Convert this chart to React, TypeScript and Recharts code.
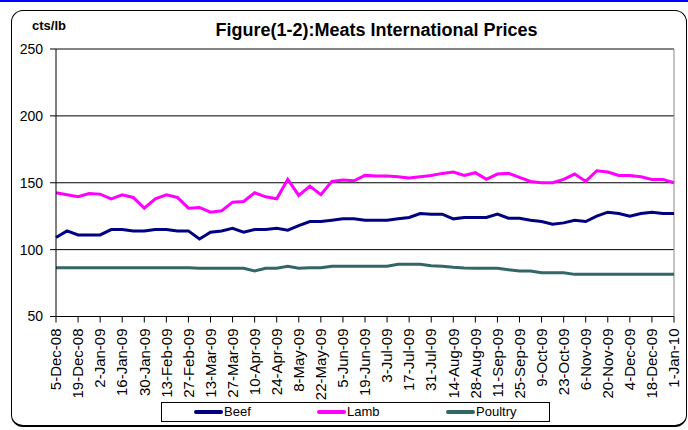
import { LineChart, Line, XAxis, YAxis, CartesianGrid, ReferenceLine } from "recharts";

const FONT = "'Liberation Sans', Arial, sans-serif";

const weeks = [
  "5-Dec-08", "12-Dec-08", "19-Dec-08", "26-Dec-08",
  "2-Jan-09", "9-Jan-09", "16-Jan-09", "23-Jan-09", "30-Jan-09",
  "6-Feb-09", "13-Feb-09", "20-Feb-09", "27-Feb-09",
  "6-Mar-09", "13-Mar-09", "20-Mar-09", "27-Mar-09",
  "3-Apr-09", "10-Apr-09", "17-Apr-09", "24-Apr-09",
  "1-May-09", "8-May-09", "15-May-09", "22-May-09", "29-May-09",
  "5-Jun-09", "12-Jun-09", "19-Jun-09", "26-Jun-09",
  "3-Jul-09", "10-Jul-09", "17-Jul-09", "24-Jul-09", "31-Jul-09",
  "7-Aug-09", "14-Aug-09", "21-Aug-09", "28-Aug-09",
  "4-Sep-09", "11-Sep-09", "18-Sep-09", "25-Sep-09",
  "2-Oct-09", "9-Oct-09", "16-Oct-09", "23-Oct-09", "30-Oct-09",
  "6-Nov-09", "13-Nov-09", "20-Nov-09", "27-Nov-09",
  "4-Dec-09", "11-Dec-09", "18-Dec-09", "25-Dec-09",
  "1-Jan-10",
];

const beef = [
  109, 114, 111, 111, 111, 115, 115, 114, 114, 115, 115, 114, 114,
  108, 113, 114, 116, 113, 115, 115, 116, 114.5, 118, 121, 121, 122,
  123, 123, 122, 122, 122, 123, 124, 127, 126.5, 126.5, 123, 124, 124,
  124, 126.5, 123.5, 123.5, 122, 121, 119, 120, 122, 121, 125, 128,
  127, 125, 127, 128, 127, 127,
];

const lamb = [
  142.5, 141, 139.5, 142, 141.5, 138, 141, 139, 131, 138, 141, 139, 131,
  131.5, 128, 129, 135.5, 136, 142.5, 139.5, 138, 152.5, 140.5, 147.5, 141, 151,
  152, 151.5, 155.5, 155, 155, 154.5, 153.5, 154.5, 155.5, 157, 158, 155.5, 157.5,
  152.5, 156.5, 157, 154, 151, 150, 150, 152.5, 156.5, 151, 159, 158,
  155.5, 155.5, 154.5, 152.5, 152.5, 150,
];

const poultry = [
  86.5, 86.5, 86.5, 86.5, 86.5, 86.5, 86.5, 86.5, 86.5, 86.5, 86.5, 86.5, 86.5,
  86, 86, 86, 86, 86, 84, 86, 86, 87.5, 86, 86.5, 86.5, 87.5,
  87.5, 87.5, 87.5, 87.5, 87.5, 89, 89, 89, 88, 87.5, 86.75, 86.25, 86,
  86, 86, 85, 84, 84, 82.75, 82.75, 82.75, 81.5, 81.5, 81.5, 81.5,
  81.5, 81.5, 81.5, 81.5, 81.5, 81.5,
];

const yTicks = [50, 100, 150, 200, 250];

const series = [
  { key: "beef", name: "Beef", color: "#000080", legendX: 32 },
  { key: "lamb", name: "Lamb", color: "#ff00ff", legendX: 155 },
  { key: "poultry", name: "Poultry", color: "#336666", legendX: 284 },
];

const data = weeks.map((week, i) => ({
  week,
  beef: beef[i],
  lamb: lamb[i],
  poultry: poultry[i],
}));

function WeekTick({ x, y, payload }: any) {
  return (
    <g transform={`translate(${x},${y + 4})`}>
      <text
        transform="rotate(-90)"
        textAnchor="end"
        dy="0.35em"
        fontSize={15}
        fontFamily={FONT}
        fill="#000"
      >
        {payload.value}
      </text>
    </g>
  );
}

export default function App() {
  return (
    <div
      style={{
        position: "absolute",
        left: 0,
        top: 0,
        width: 688,
        height: 430,
        background: "#fff",
        fontFamily: FONT,
      }}
    >
      <div style={{ position: "absolute", left: 0, top: 0, width: 688, height: 2, background: "#0000ff" }} />
      <div
        style={{
          position: "absolute",
          left: 11,
          top: 10,
          width: 674,
          height: 414,
          border: "1px solid #000",
          borderBottomWidth: 2,
          borderRadius: 12,
        }}
      />
      <div
        style={{
          position: "absolute",
          left: 32,
          top: 18,
          fontSize: 13,
          fontWeight: "bold",
        }}
      >
        cts/lb
      </div>
      <div
        style={{
          position: "absolute",
          left: 0,
          width: 753,
          top: 20,
          textAlign: "center",
          fontSize: 18,
          fontWeight: "bold",
        }}
      >
        Figure(1-2):Meats International Prices
      </div>

      <div style={{ position: "absolute", left: 0, top: 0 }}>
        <LineChart
          width={688}
          height={430}
          data={data}
          margin={{ top: 49, right: 14, left: 0, bottom: 33.5 }}
        >
          <CartesianGrid vertical={false} stroke="#000" strokeWidth={1} />
          <XAxis
            dataKey="week"
            interval={1}
            height={80}
            tickSize={6}
            tickLine={{ stroke: "#000" }}
            axisLine={{ stroke: "#000" }}
            tick={<WeekTick />}
          />
          <YAxis
            domain={[50, 250]}
            ticks={yTicks}
            width={56}
            tickSize={6}
            tickMargin={7}
            tickLine={{ stroke: "#000" }}
            axisLine={{ stroke: "#000" }}
            tick={{ fill: "#000", fontSize: 14, fontFamily: FONT }}
          />
          <ReferenceLine y={250} stroke="#888" />
          <ReferenceLine x={weeks[weeks.length - 1]} stroke="#888" />
          {series.map((s) => (
            <Line
              key={s.key}
              dataKey={s.key}
              name={s.name}
              type="linear"
              stroke={s.color}
              strokeWidth={3}
              dot={false}
              isAnimationActive={false}
            />
          ))}
        </LineChart>
      </div>

      <div
        style={{
          position: "absolute",
          left: 161,
          top: 402,
          width: 387,
          height: 18,
          border: "1px solid #000",
          background: "#fff",
        }}
      >
        {series.map((s) => (
          <div key={s.key}>
            <div
              style={{
                position: "absolute",
                left: s.legendX,
                top: 7,
                width: 29,
                height: 4,
                borderRadius: 2,
                background: s.color,
              }}
            />
            <div
              style={{
                position: "absolute",
                left: s.legendX + 30,
                top: 1,
                fontSize: 13,
                lineHeight: "16px",
              }}
            >
              {s.name}
            </div>
          </div>
        ))}
      </div>
    </div>
  );
}
